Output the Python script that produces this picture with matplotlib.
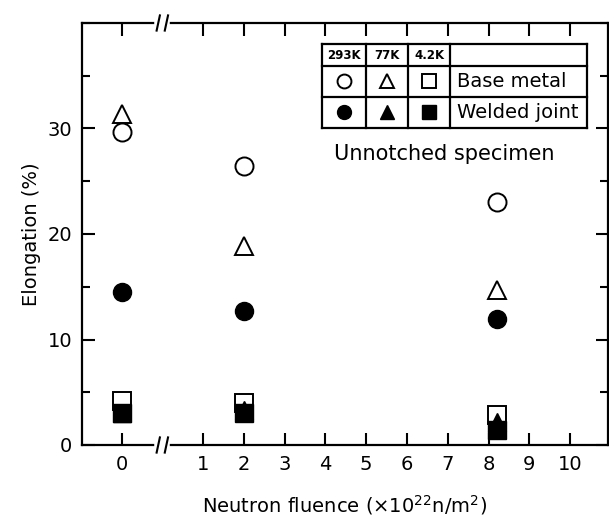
import matplotlib.pyplot as plt
from matplotlib.ticker import MultipleLocator

# fluence in 1e22 n/m^2, elongation in %
fluence = [0, 2, 8.2]
base_293 = [29.7, 26.4, 23.0]
base_77 = [31.4, 18.9, 14.7]
base_4 = [4.2, 4.0, 2.8]
weld_293 = [14.5, 12.7, 11.9]
weld_77 = [3.0, 3.3, 2.2]
weld_4 = [3.0, 3.0, 1.4]

temps = ['293K', '77K', '4.2K']
groups = ['Base metal', 'Welded joint']
xtick_vals = [0, 1, 2, 3, 4, 5, 6, 7, 8, 9, 10]

# broken axis: fluence 0 is drawn at -1, the rest as is
def pos(v):
    return -1 if v == 0 else v

xs = [pos(f) for f in fluence]

fig = plt.figure(figsize=(6.09, 5.22), dpi=100)
ax = fig.add_axes([82 / 609, 77 / 522, 526 / 609, 422 / 522])

ms = 13
kw_open = dict(ls='none', ms=ms, mfc='white', mec='black', mew=1.4)
kw_fill = dict(ls='none', ms=ms, mfc='black', mec='black', mew=1.0)
ax.plot(xs, base_293, 'o', **kw_open)
ax.plot(xs, base_77, '^', **kw_open)
ax.plot(xs, base_4, 's', **kw_open)
ax.plot(xs, weld_293, 'o', **kw_fill)
ax.plot(xs, weld_77, '^', **kw_fill)
ax.plot(xs, weld_4, 's', **kw_fill)

ax.set_xlim(-1.97, 10.93)
ax.set_ylim(0, 40)
ax.set_xticks([pos(v) for v in xtick_vals])
ax.set_xticklabels([str(v) for v in xtick_vals])
ax.set_yticks([0, 10, 20, 30])
ax.yaxis.set_minor_locator(MultipleLocator(5))
ax.tick_params(which='both', direction='in', top=True, right=True,
               width=1.5, labelsize=14, pad=7)
ax.tick_params(which='major', length=9)
ax.tick_params(which='minor', length=6)
ax.tick_params(axis='x', which='minor', top=False, bottom=False)
for s in ax.spines.values():
    s.set_linewidth(1.6)

ax.set_xlabel('Neutron fluence (×10$^{22}$n/m$^{2}$)', fontsize=14, labelpad=14)
ax.set_ylabel('Elongation (%)', fontsize=14, labelpad=5)

# axis break marks on bottom and top spines
tr = ax.get_xaxis_transform()
for yb in (0, 1):
    ax.plot([-0.12, 0.12], [yb, yb], color='white', lw=4, transform=tr,
            clip_on=False, zorder=5)
    for xb in (-0.1, 0.1):
        ax.plot([xb - 0.04, xb + 0.04], [yb - 0.018, yb + 0.018], color='black',
                lw=1.5, transform=tr, clip_on=False, zorder=6)

# legend table drawn in axes coordinates
ta = ax.transAxes
col_x = [0.456, 0.540, 0.620, 0.700, 0.960]
row_y = [0.950, 0.898, 0.825, 0.751]
for x in col_x:
    ax.plot([x, x], [row_y[-1], row_y[0]], color='black', lw=1.6, transform=ta)
for y in row_y:
    ax.plot([col_x[0], col_x[-1]], [y, y], color='black', lw=1.6, transform=ta)
for i, t in enumerate(temps):
    ax.text((col_x[i] + col_x[i + 1]) / 2, (row_y[0] + row_y[1]) / 2, t,
            transform=ta, ha='center', va='center', fontsize=8.5, fontweight='bold')
markers = ['o', '^', 's']
for r, g in enumerate(groups):
    yc = (row_y[r + 1] + row_y[r + 2]) / 2
    for i, m in enumerate(markers):
        style = kw_open if r == 0 else kw_fill
        ax.plot([(col_x[i] + col_x[i + 1]) / 2], [yc], m, transform=ta,
                **dict(style, ms=10))
    ax.text(col_x[3] + 0.012, yc, g, transform=ta, ha='left', va='center',
            fontsize=14)

ax.text(0.898, 0.69, 'Unnotched specimen', transform=ta, ha='right',
        va='center', fontsize=15)

fig.savefig('out.png', dpi=100)
